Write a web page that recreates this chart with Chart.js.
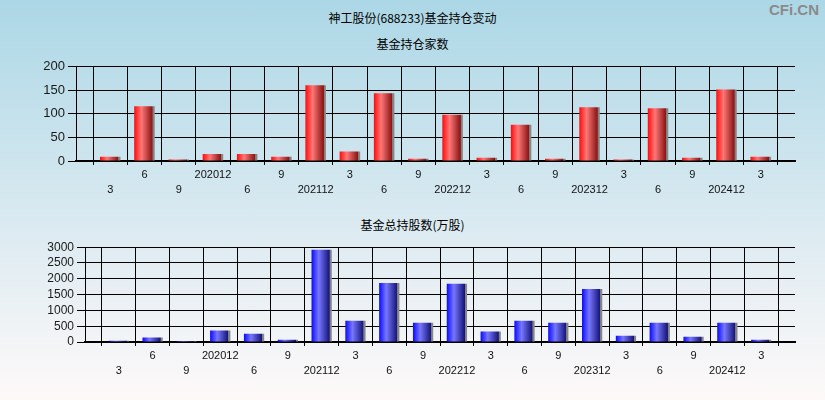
<!DOCTYPE html>
<html>
<head>
<meta charset="utf-8">
<script src="https://cdn.jsdelivr.net/npm/chart.js@4"></script>
<style>
  html, body { margin: 0; padding: 0; }
  body {
    width: 825px; height: 400px; overflow: hidden; position: relative;
    background: linear-gradient(to bottom, #acd7e6 0%, #d6e8f0 50%, #fef9f9 100%);
    font-family: "Noto Sans CJK SC", "Liberation Sans", sans-serif;
  }
  .titulo { position: absolute; left: 0; width: 825px; text-align: center; font-size: 12px; color: #000; }
  .marca { position: absolute; right: 6px; top: 1px; font: bold 15px "Liberation Sans", Arial, sans-serif; color: #8a8a8a; }
  canvas { position: absolute; left: 0; }
</style>
</head>
<body>
<div class="titulo" style="top:9px">神工股份(688233)基金持仓变动</div>
<div class="marca">CFi.CN</div>
<div class="titulo" style="top:35px">基金持仓家数</div>
<div class="titulo" style="top:216px">基金总持股数(万股)</div>
<canvas id="g1" width="825" height="145" style="top:56px"></canvas>
<canvas id="g2" width="825" height="145" style="top:237px"></canvas>
<script>
// Etiquetas de los trimestres (tal como aparecen en el eje X)
const trimestres = ['3', '6', '9', '202012', '6', '9', '202112', '3', '6', '9',
                    '202212', '3', '6', '9', '202312', '3', '6', '9', '202412', '3'];
// Número de fondos que tienen la acción
const fondos = [9, 116, 3, 15, 15, 9, 161, 20, 144, 5,
                98, 7, 77, 5, 114, 3, 112, 7, 152, 9];
// Total de acciones en manos de fondos (万股)
const acciones = [40, 140, 35, 360, 260, 70, 2920, 670, 1870, 610,
                  1840, 330, 670, 610, 1680, 200, 610, 170, 610, 75];

Chart.defaults.animation = false;

// Las etiquetas alternan entre dos filas; se añade un hueco vacío a cada lado
const etiquetas = [''].concat(trimestres.map((t, i) => i % 2 === 0 ? ['', t] : [t, '']), ['']);

function rellenar(arr) {
    return [null].concat(arr, [null]);
}

// Degradado tipo cilindro para cada barra
function degradado(colores) {
    return function (ctx) {
        const chart = ctx.chart;
        const xs = chart.scales.x;
        if (!xs || !chart.chartArea || ctx.type !== 'data') return colores[0];
        const x = xs.getPixelForValue(ctx.dataIndex);
        const w = (xs.getPixelForValue(1) - xs.getPixelForValue(0)) * 0.6;
        const g = chart.ctx.createLinearGradient(x - w / 2, 0, x + w / 2, 0);
        g.addColorStop(0, colores[0]);
        g.addColorStop(0.35, colores[1]);
        g.addColorStop(0.88, colores[2]);
        g.addColorStop(0.9, '#7d7d7d');
        g.addColorStop(1, '#8c8c8c');
        return g;
    };
}

function crearGrafico(id, datos, colores, maximo, paso, anchoEje, tamLetra) {
    return new Chart(document.getElementById(id), {
        type: 'bar',
        data: {
            labels: etiquetas,
            datasets: [{
                data: rellenar(datos),
                backgroundColor: degradado(colores),
                borderWidth: 0,
                barPercentage: 0.6,
                categoryPercentage: 1
            }]
        },
        options: {
            responsive: false,
            layout: { padding: { left: 0, right: 30, top: 10, bottom: 0 } },
            plugins: { legend: { display: false }, tooltip: { enabled: false } },
            scales: {
                x: {
                    type: 'category',
                    offset: false,
                    grid: { color: '#000', lineWidth: 1, tickLength: 4 },
                    border: { color: '#000', width: 2 },
                    ticks: {
                        autoSkip: false, maxRotation: 0, padding: 3,
                        color: '#111',
                        font: { family: 'Liberation Sans', size: 11, lineHeight: 1.35 }
                    },
                    afterFit: s => { s.height = 40; }
                },
                y: {
                    min: 0, max: maximo,
                    grid: { color: '#000', lineWidth: 1, tickLength: 8 },
                    border: { color: '#000', width: 1 },
                    ticks: {
                        stepSize: paso, padding: 3, color: '#1a1a1a',
                        autoSkip: false,
                        callback: v => String(v),
                        font: { family: 'Liberation Sans', size: tamLetra }
                    },
                    afterFit: s => { s.width = anchoEje; }
                }
            }
        }
    });
}

crearGrafico('g1', fondos, ['#ff0a0a', '#ff7777', '#8a1414'], 200, 50, 76, 13);
crearGrafico('g2', acciones, ['#0a0aff', '#7777ff', '#15157a'], 3000, 500, 85, 12);
</script>
</body>
</html>
